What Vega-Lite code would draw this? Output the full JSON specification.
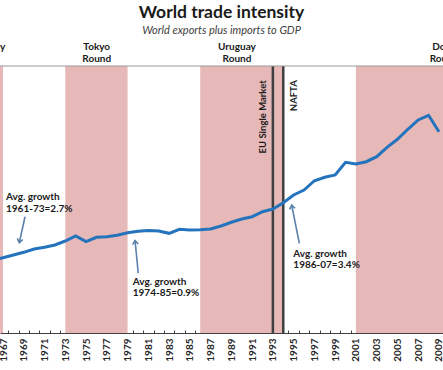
{
  "$schema": "https://vega.github.io/schema/vega-lite/v6.json",
  "width": 443,
  "height": 267,
  "autosize": {"type": "none"},
  "padding": {"left": 0, "right": 0, "top": 66, "bottom": 37},
  "background": "white",
  "config": {"view": {"stroke": null}, "font": "Lato"},
  "title": {
    "text": "World trade intensity",
    "subtitle": "World exports plus imports to GDP",
    "anchor": "middle",
    "frame": "group",
    "font": "Lato",
    "fontSize": 17.5,
    "fontWeight": "bold",
    "color": "#1a1a1a",
    "subtitleFont": "Lato",
    "subtitleFontSize": 11,
    "subtitleFontStyle": "italic",
    "subtitleColor": "#404040",
    "subtitlePadding": 3,
    "offset": 6
  },
  "datasets": {
    "trade": [
      {"year": 1966, "v": 26.29}, {"year": 1967, "v": 26.92}, {"year": 1968, "v": 27.53},
      {"year": 1969, "v": 28.13}, {"year": 1970, "v": 28.88}, {"year": 1971, "v": 29.26},
      {"year": 1972, "v": 29.78}, {"year": 1973, "v": 30.67}, {"year": 1974, "v": 31.80},
      {"year": 1975, "v": 30.52}, {"year": 1976, "v": 31.51}, {"year": 1977, "v": 31.64},
      {"year": 1978, "v": 31.96}, {"year": 1979, "v": 32.54}, {"year": 1980, "v": 32.85},
      {"year": 1981, "v": 33.03}, {"year": 1982, "v": 32.92}, {"year": 1983, "v": 32.40},
      {"year": 1984, "v": 33.30}, {"year": 1985, "v": 33.15}, {"year": 1986, "v": 33.22},
      {"year": 1987, "v": 33.37}, {"year": 1988, "v": 34.04}, {"year": 1989, "v": 34.88},
      {"year": 1990, "v": 35.62}, {"year": 1991, "v": 36.13}, {"year": 1992, "v": 37.26},
      {"year": 1993, "v": 37.87}, {"year": 1994, "v": 39.28}, {"year": 1995, "v": 41.01},
      {"year": 1996, "v": 42.13}, {"year": 1997, "v": 44.22}, {"year": 1998, "v": 44.99},
      {"year": 1999, "v": 45.51}, {"year": 2000, "v": 48.36}, {"year": 2001, "v": 47.98},
      {"year": 2002, "v": 48.49}, {"year": 2003, "v": 49.62}, {"year": 2004, "v": 51.73},
      {"year": 2005, "v": 53.53}, {"year": 2006, "v": 55.78}, {"year": 2007, "v": 57.87},
      {"year": 2008, "v": 58.92}, {"year": 2009, "v": 55.24}
    ],
    "rounds": [
      {"name": "Kennedy\nRound", "start": 1964, "end": 1967, "labelYear": 1965.32, "labelV": 73.6},
      {"name": "Tokyo\nRound", "start": 1973, "end": 1979, "labelYear": 1976.03, "labelV": 73.6},
      {"name": "Uruguay\nRound", "start": 1986, "end": 1994, "labelYear": 1989.54, "labelV": 73.6},
      {"name": "Doha\nRound", "start": 2001, "end": 2012, "labelYear": 2009.5, "labelV": 73.6}
    ],
    "events": [
      {"event": "EU Single Market", "year": 1993, "labelYear": 1992.05, "labelV": 66.8},
      {"event": "NAFTA", "year": 1994, "labelYear": 1995.03, "labelV": 66.8}
    ],
    "notes": [
      {"id": "a1", "text": "Avg. growth\n1961-73=2.7%", "tx": 1967.29, "tv": 39.78, "x1": 1969.12, "v1": 36.13, "x2": 1968.57, "v2": 30.29},
      {"id": "a2", "text": "Avg. growth\n1974-85=0.9%", "tx": 1979.5, "tv": 20.79, "x1": 1980.03, "v1": 23.42, "x2": 1979.72, "v2": 30.79},
      {"id": "a3", "text": "Avg. growth\n1986-07=3.4%", "tx": 1994.97, "tv": 27.15, "x1": 1995.55, "v1": 30.16, "x2": 1994.81, "v2": 38.76}
    ]
  },
  "resolve": {"axis": {"x": "independent"}},
  "layer": [
    {
      "data": {"name": "rounds"},
      "mark": {"type": "rect", "color": "#e6b8b7", "clip": true},
      "encoding": {
        "x": {
          "field": "start", "type": "quantitative",
          "scale": {"domain": [1966.71, 2009.39], "nice": false, "zero": false},
          "axis": {
            "orient": "bottom",
            "values": [1967.5,1968.5,1969.5,1970.5,1971.5,1972.5,1973.5,1974.5,1975.5,1976.5,1977.5,1978.5,1979.5,1980.5,1981.5,1982.5,1983.5,1984.5,1985.5,1986.5,1987.5,1988.5,1989.5,1990.5,1991.5,1992.5,1993.5,1994.5,1995.5,1996.5,1997.5,1998.5,1999.5,2000.5,2001.5,2002.5,2003.5,2004.5,2005.5,2006.5,2007.5,2008.5],
            "labels": false, "grid": false, "title": null,
            "tickSize": -3, "tickColor": "#404040", "tickWidth": 1,
            "domainColor": "#404040", "domainWidth": 1
          }
        },
        "x2": {"field": "end"}
      }
    },
    {
      "data": {"name": "events"},
      "mark": {"type": "rule", "color": "#404040", "strokeWidth": 2.5},
      "encoding": {
        "x": {"field": "year", "type": "quantitative", "axis": null}
      }
    },
    {
      "data": {"values": [{}]},
      "mark": {"type": "rule", "color": "#9a9a9a", "strokeWidth": 1},
      "encoding": {
        "y": {"datum": 70, "type": "quantitative", "scale": {"domain": [10, 70], "nice": false, "zero": false}, "axis": null}
      }
    },
    {
      "data": {"name": "trade"},
      "mark": {"type": "line", "color": "#2474bd", "strokeWidth": 3, "clip": true},
      "encoding": {
        "x": {
          "field": "year", "type": "quantitative",
          "axis": {
            "orient": "bottom",
            "values": [1967,1969,1971,1973,1975,1977,1979,1981,1983,1985,1987,1989,1991,1993,1995,1997,1999,2001,2003,2005,2007,2009],
            "format": "d", "labelAngle": -90, "labelAlign": "right", "labelBaseline": "middle",
            "ticks": false, "tickSize": 0, "domain": false, "grid": false, "title": null,
            "labelPadding": 5, "labelFont": "Lato", "labelFontWeight": "bold", "labelFontSize": 10,
            "labelColor": "#262626", "labelFlush": false, "labelOverlap": false, "labelBound": false
          }
        },
        "y": {"field": "v", "type": "quantitative", "scale": {"domain": [10, 70], "nice": false, "zero": false}, "axis": null}
      }
    },
    {
      "data": {"name": "notes"},
      "mark": {"type": "rule", "color": "#5b80aa", "strokeWidth": 1.6},
      "encoding": {
        "x": {"field": "x1", "type": "quantitative", "axis": null},
        "x2": {"field": "x2"},
        "y": {"field": "v1", "type": "quantitative", "axis": null},
        "y2": {"field": "v2"}
      }
    },
    {
      "data": {"name": "notes"},
      "transform": [{"filter": "datum.id == 'a1'"}],
      "mark": {"type": "point", "shape": "M-0.8,1.1L0,0L0.8,1.1", "filled": false, "stroke": "#5b80aa", "strokeWidth": 1.6, "size": 49, "angle": 192, "opacity": 1},
      "encoding": {
        "x": {"field": "x2", "type": "quantitative", "axis": null},
        "y": {"field": "v2", "type": "quantitative", "axis": null}
      }
    },
    {
      "data": {"name": "notes"},
      "transform": [{"filter": "datum.id == 'a2'"}],
      "mark": {"type": "point", "shape": "M-0.8,1.1L0,0L0.8,1.1", "filled": false, "stroke": "#5b80aa", "strokeWidth": 1.6, "size": 49, "angle": 354, "opacity": 1},
      "encoding": {
        "x": {"field": "x2", "type": "quantitative", "axis": null},
        "y": {"field": "v2", "type": "quantitative", "axis": null}
      }
    },
    {
      "data": {"name": "notes"},
      "transform": [{"filter": "datum.id == 'a3'"}],
      "mark": {"type": "point", "shape": "M-0.8,1.1L0,0L0.8,1.1", "filled": false, "stroke": "#5b80aa", "strokeWidth": 1.6, "size": 49, "angle": 349, "opacity": 1},
      "encoding": {
        "x": {"field": "x2", "type": "quantitative", "axis": null},
        "y": {"field": "v2", "type": "quantitative", "axis": null}
      }
    },
    {
      "data": {"name": "notes"},
      "mark": {"type": "text", "align": "left", "baseline": "alphabetic", "lineBreak": "\n", "lineHeight": 11.5, "font": "Lato", "fontWeight": "bold", "fontSize": 10, "color": "#1a1a1a"},
      "encoding": {
        "x": {"field": "tx", "type": "quantitative", "axis": null},
        "y": {"field": "tv", "type": "quantitative", "axis": null},
        "text": {"field": "text"}
      }
    },
    {
      "data": {"name": "rounds"},
      "mark": {"type": "text", "align": "center", "baseline": "alphabetic", "lineBreak": "\n", "lineHeight": 12.3, "font": "Lato", "fontWeight": "bold", "fontSize": 10, "color": "#1a1a1a", "clip": false},
      "encoding": {
        "x": {"field": "labelYear", "type": "quantitative", "axis": null},
        "y": {"field": "labelV", "type": "quantitative", "axis": null},
        "text": {"field": "name"}
      }
    },
    {
      "data": {"name": "events"},
      "mark": {"type": "text", "angle": 270, "align": "right", "baseline": "middle", "font": "Lato", "fontWeight": "bold", "fontSize": 9.5, "color": "#1a1a1a"},
      "encoding": {
        "x": {"field": "labelYear", "type": "quantitative", "axis": null},
        "y": {"field": "labelV", "type": "quantitative", "axis": null},
        "text": {"field": "event"}
      }
    }
  ]
}
